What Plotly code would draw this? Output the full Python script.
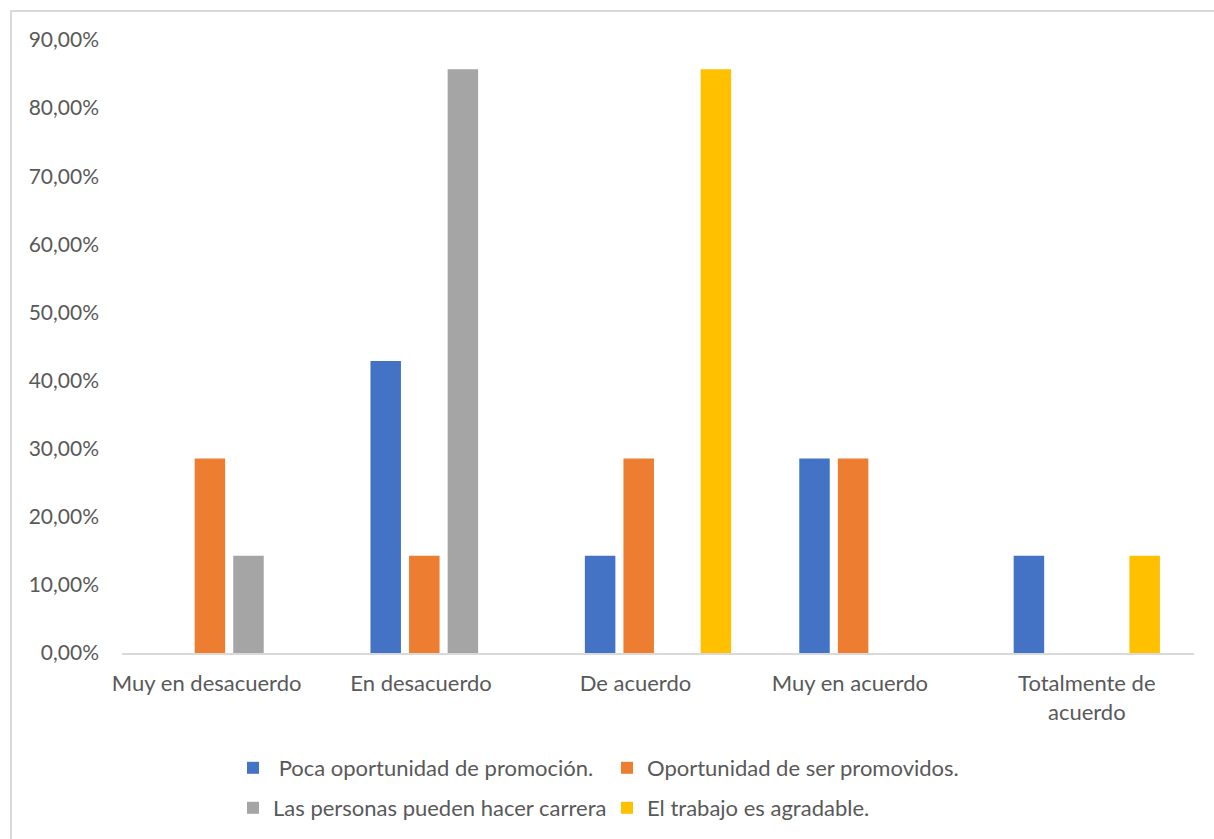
import plotly.graph_objects as go

PAD = "\u00a0" * 8
categories = ["Muy en desacuerdo" + PAD, "En desacuerdo" + PAD, "De acuerdo" + PAD,
              "Muy en acuerdo" + PAD, "Totalmente de<br>acuerdo"]
series_names = [" Poca oportunidad de promoción.", "Oportunidad de ser promovidos.",
                "Las personas pueden hacer carrera", "El trabajo es agradable."]
poca = [0.0, 0.4286, 0.1429, 0.2857, 0.1429]
oportunidad = [0.2857, 0.1429, 0.2857, 0.2857, 0.0]
carrera = [0.1429, 0.8571, 0.0, 0.0, 0.0]
agradable = [0.0, 0.0, 0.8571, 0.0, 0.1429]
colors = ["#4472C4", "#ED7D31", "#A5A5A5", "#FFC000"]
y_ticks = [0, 0.1, 0.2, 0.3, 0.4, 0.5, 0.6, 0.7, 0.8, 0.9]

FONT = "Lato"
TXT = "#595959"

fig = go.Figure()
for i, (name, vals) in enumerate(zip(series_names, [poca, oportunidad, carrera, agradable])):
    fig.add_trace(go.Bar(
        x=categories, y=vals, name=name,
        marker=dict(color=colors[i], line=dict(width=0)),
        legend="legend" if i < 2 else "legend2",
    ))

W, H = 1214, 839
L, R, T, B = 122, 20, 40, 186
pw, ph = W - L - R, H - T - B

def px2x(px):
    return (px - L) / pw

def py2y(py):
    return (H - B - py) / ph

def cx(px):
    return px / W

def cy(py):
    return 1 - py / H

leg_common = dict(orientation="h", xref="container", yref="container", xanchor="left",
                  yanchor="middle", font=dict(size=22, color=TXT), bgcolor="rgba(0,0,0,0)",
                  itemwidth=30, entrywidth=329, tracegroupgap=0)

fig.update_layout(
    width=W, height=H,
    margin=dict(l=L, r=R, t=T, b=B, pad=0, autoexpand=False),
    paper_bgcolor="white", plot_bgcolor="white",
    separators=",.",
    font=dict(family=FONT, size=21, color=TXT),
    barmode="group", bargap=0.28, bargroupgap=0.21,
    xaxis=dict(showline=True, linecolor="#d9d9d9", linewidth=1.5, ticks="", tickangle=0,
               showgrid=False, tickfont=dict(size=22, color=TXT), ticklabelstandoff=10,
               automargin=False),
    yaxis=dict(range=[0, 0.9], tickvals=y_ticks, tickformat=".2%", showgrid=False,
               zeroline=False, showline=False, ticks="", tickfont=dict(size=21, color=TXT),
               ticklabelstandoff=22, automargin=False),
    legend=dict(x=cx(233), y=cy(768), **leg_common),
    legend2=dict(x=cx(233), y=cy(808), **leg_common),
    shapes=[dict(type="rect", xref="paper", yref="paper",
                 x0=px2x(11), x1=px2x(1230), y0=py2y(860), y1=py2y(11),
                 line=dict(color="#d9d9d9", width=2), fillcolor="rgba(0,0,0,0)", layer="below")],
)

fig.write_html("out.html")
